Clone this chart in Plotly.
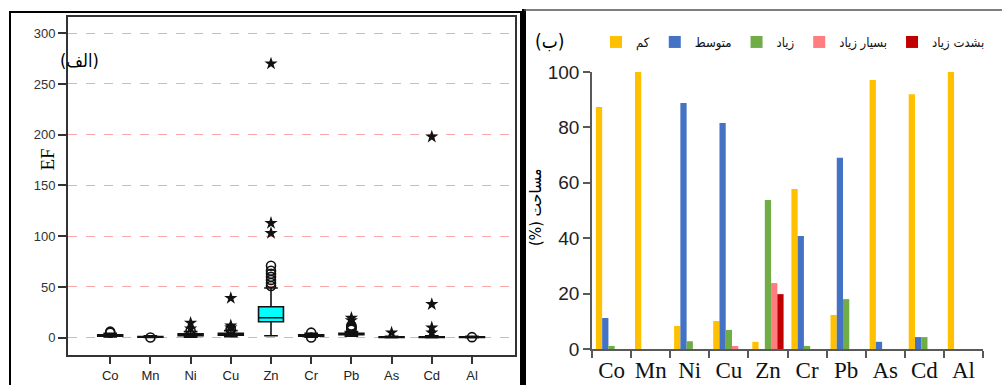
import plotly.graph_objects as go

W, H = 1002, 385

# ---------------- data ----------------
elements = ["Co", "Mn", "Ni", "Cu", "Zn", "Cr", "Pb", "As", "Cd", "Al"]

# left panel: box statistics of EF
box_q1 = [1.5, 0.6, 2.0, 2.5, 15.7, 1.5, 3.0, 0.3, 0.3, 0.3]
box_median = [2.0, 0.9, 3.0, 3.5, 19.7, 2.3, 3.8, 0.6, 0.6, 0.6]
box_q3 = [3.0, 1.2, 4.0, 4.5, 30.5, 3.0, 4.5, 1.0, 1.0, 1.0]
box_low = [0.8, 0.3, 0.5, 1.0, 2.0, 0.5, 1.5, 0.0, 0.0, 0.0]
box_high = [4.5, 1.8, 6.0, 7.0, 49.0, 4.5, 6.0, 1.5, 2.0, 1.5]

circle_outliers = {
    "Co": [5, 6], "Mn": [0.3], "Ni": [7], "Cu": [8, 9],
    "Zn": [51, 54, 57, 60, 63, 66, 71], "Cr": [5, 0.2],
    "Pb": [8, 9, 10, 11, 12], "Al": [0.6],
}
star_outliers = {
    "Ni": [14.5, 9], "Cu": [39, 12, 10], "Zn": [103, 113, 270],
    "Pb": [17, 19.5], "As": [5], "Cd": [198, 33, 10, 5],
}

# right panel: area percentage per class
class_names = ["کم", "متوسط", "زیاد", "بسیار زیاد", "بشدت زیاد"]
kam = [87.4, 100, 8.3, 10.1, 2.6, 57.8, 12.3, 97.1, 92.0, 100]
motavaset = [11.2, 0, 88.8, 81.6, 0, 40.8, 69.0, 2.6, 4.3, 0]
ziad = [1.1, 0, 2.8, 6.9, 53.8, 1.1, 18.0, 0, 4.3, 0]
besiar_ziad = [0, 0, 0, 1.1, 23.8, 0, 0, 0, 0, 0]
beshedat_ziad = [0, 0, 0, 0, 19.8, 0, 0, 0, 0, 0]
class_values = [kam, motavaset, ziad, besiar_ziad, beshedat_ziad]
class_colors = ["#FFC000", "#4472C4", "#70AD47", "#FF7C80", "#C00000"]

# ---------------- figure ----------------
fig = go.Figure()

def px_x(p):
    return p / W

def px_y(p):
    return 1 - p / H

# left boxes
fig.add_trace(go.Box(
    x=elements, q1=box_q1, median=box_median, q3=box_q3,
    lowerfence=box_low, upperfence=box_high,
    boxpoints=False, fillcolor="#00FFFF",
    line=dict(color="#111111", width=1.6), whiskerwidth=0.55,
    width=0.62, xaxis="x", yaxis="y", showlegend=False, hoverinfo="skip",
))

cx, cy = [], []
for k, v in circle_outliers.items():
    cx += [k] * len(v)
    cy += v
fig.add_trace(go.Scatter(
    x=cx, y=cy, mode="markers", xaxis="x", yaxis="y", showlegend=False,
    marker=dict(symbol="circle-open", size=9, color="#111111", line=dict(width=1.6)),
))
sx, sy = [], []
for k, v in star_outliers.items():
    sx += [k] * len(v)
    sy += v
fig.add_trace(go.Scatter(
    x=sx, y=sy, mode="markers", xaxis="x", yaxis="y", showlegend=False,
    marker=dict(symbol="star", size=10, color="#111111"),
))

# right bars
for name, vals, col in zip(class_names, class_values, class_colors):
    fig.add_trace(go.Bar(
        x=elements, y=vals, name=name, marker=dict(color=col, line=dict(width=0)),
        xaxis="x2", yaxis="y2",
    ))

ARABIC = "DejaVu Sans Condensed, DejaVu Sans"

fig.update_layout(
    template="none",
    width=W, height=H, autosize=False,
    margin=dict(l=0, r=0, t=0, b=0, autoexpand=False),
    paper_bgcolor="white", plot_bgcolor="white",
    barmode="group", bargap=0.2, bargroupgap=0,
    xaxis=dict(
        domain=[px_x(68), px_x(515)], anchor="y", automargin=False,
        type="category", categoryorder="array", categoryarray=elements,
        range=[-1.05, 10.07], showline=True, mirror=True, linecolor="#333333", linewidth=2,
        ticks="outside", ticklen=7, tickcolor="#333333", tickwidth=1.5, tickangle=0,
        tickfont=dict(family="Liberation Sans", size=13, color="#222222"),
        showgrid=False, zeroline=False,
    ),
    yaxis=dict(
        domain=[px_y(355), px_y(17)], anchor="x", automargin=False,
        range=[-17, 316], tickvals=[0, 50, 100, 150, 200, 250, 300],
        showline=True, mirror=True, linecolor="#333333", linewidth=2,
        ticks="outside", ticklen=8, tickcolor="#333333", tickwidth=1.5,
        tickfont=dict(family="Liberation Sans", size=13, color="#333333"),
        showgrid=True, gridcolor="#F7A8A8", griddash="dash", gridwidth=1,
        zeroline=False,
    ),
    xaxis2=dict(
        domain=[px_x(592), px_x(983)], anchor="y2", automargin=False,
        type="category", categoryorder="array", categoryarray=elements,
        showline=True, linecolor="#595959", linewidth=1.5,
        ticks="outside", tickson="boundaries", ticklen=7, tickcolor="#595959", tickwidth=1.5,
        tickangle=0,
        tickfont=dict(family="Liberation Serif", size=23, color="#111111"),
        showgrid=False, zeroline=False,
    ),
    yaxis2=dict(
        domain=[px_y(349), px_y(72)], anchor="x2", automargin=False,
        range=[0, 100], tickvals=[0, 20, 40, 60, 80, 100],
        showline=True, linecolor="#595959", linewidth=1.5,
        ticks="outside", ticklen=7, tickcolor="#595959", tickwidth=1.5,
        tickfont=dict(family="Liberation Sans", size=19, color="#222222"),
        showgrid=False, zeroline=False,
    ),
    legend=dict(
        orientation="h", x=px_x(596), xanchor="left", y=px_y(42), yanchor="middle",
        font=dict(family=ARABIC, size=13, color="#111111"),
        itemwidth=30, bgcolor="rgba(0,0,0,0)", traceorder="normal",
    ),
    shapes=[
        dict(type="rect", xref="paper", yref="paper",
             x0=px_x(10), x1=px_x(521), y0=px_y(390), y1=px_y(12),
             line=dict(color="black", width=2)),
        dict(type="line", xref="paper", yref="paper",
             x0=px_x(524), x1=px_x(524), y0=px_y(386), y1=px_y(9),
             line=dict(color="black", width=4)),
        dict(type="line", xref="paper", yref="paper",
             x0=px_x(524), x1=px_x(1002), y0=px_y(10), y1=px_y(10),
             line=dict(color="#555555", width=1.5)),
    ],
    annotations=[
        dict(text="EF", xref="paper", yref="paper", x=px_x(34), y=px_y(160),
             textangle=-90, showarrow=False,
             font=dict(family="Liberation Serif", size=19, color="black")),
        dict(text="(الف)", xref="paper", yref="paper", x=px_x(58), y=px_y(48),
             showarrow=False, font=dict(family=ARABIC, size=18, color="black")),
        dict(text="(ب)", xref="paper", yref="paper", x=px_x(549), y=px_y(28),
             showarrow=False, font=dict(family=ARABIC, size=19, color="black")),
        dict(text="(%) مساحت", xref="paper", yref="paper", x=px_x(536), y=px_y(208),
             textangle=-90, showarrow=False,
             font=dict(family=ARABIC, size=16, color="black")),
    ],
)

fig.write_html("out.html")
